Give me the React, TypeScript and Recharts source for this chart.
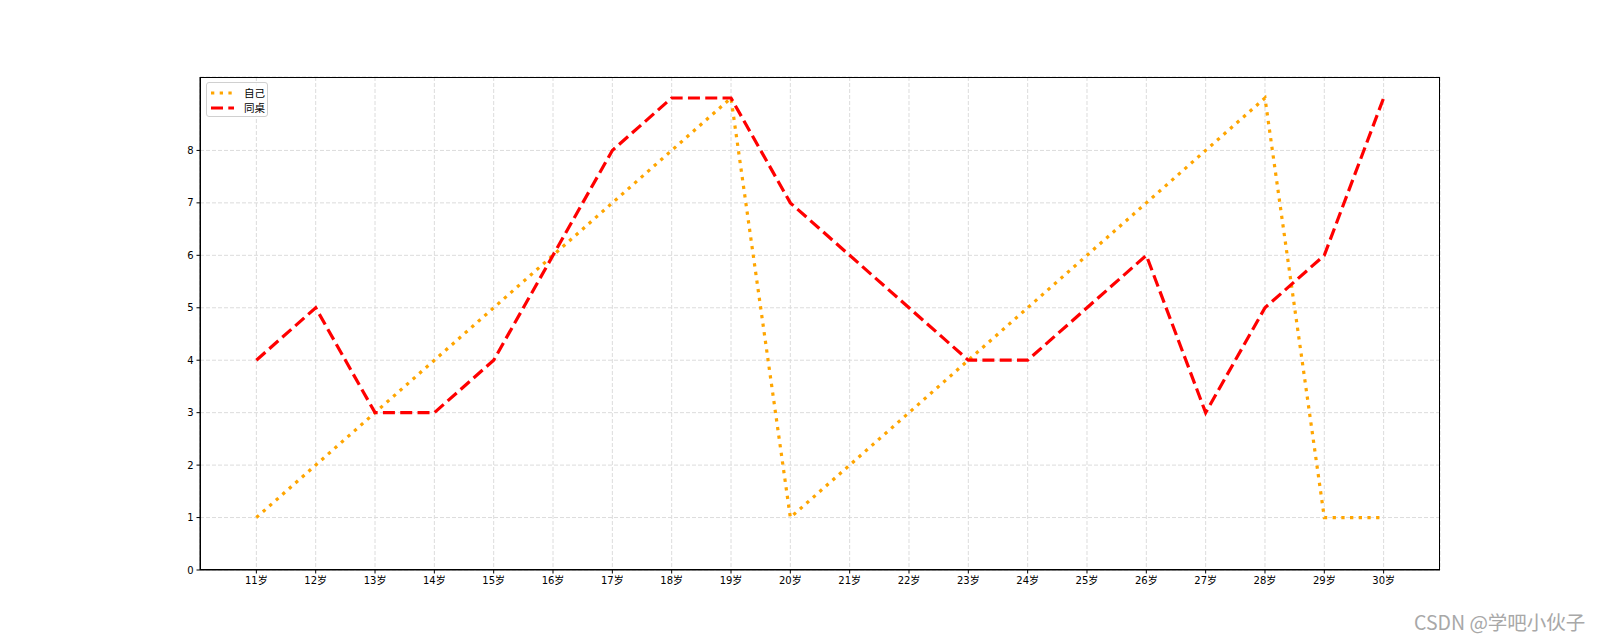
import React from 'react';
import { LineChart, Line, XAxis, YAxis, CartesianGrid } from 'recharts';

const ages = ['11岁', '12岁', '13岁', '14岁', '15岁', '16岁', '17岁', '18岁', '19岁', '20岁',
  '21岁', '22岁', '23岁', '24岁', '25岁', '26岁', '27岁', '28岁', '29岁', '30岁'];
const mine = [1, 2, 3, 4, 5, 6, 7, 8, 9, 1, 2, 3, 4, 5, 6, 7, 8, 9, 1, 1];
const deskmate = [4, 5, 3, 3, 4, 6, 8, 9, 9, 7, 6, 5, 4, 4, 5, 6, 3, 5, 6, 9];
const yTicks = [0, 1, 2, 3, 4, 5, 6, 7, 8];

const FONT = '"DejaVu Sans", "Noto Sans CJK SC", sans-serif';
const DOTTED = '3.3 5.4';
const DASHED = '12 5.3';

const data = ages.map((a, i) => ({ idx: i, label: a, mine: mine[i], deskmate: deskmate[i] }));

// plot box (matches the axes frame)
const PLOT = { left: 200, top: 77, right: 1440, bottom: 570 };

function LegendBox() {
  const rows = [
    { name: '自己', color: 'orange', dash: DOTTED },
    { name: '同桌', color: 'red', dash: DASHED },
  ];
  return (
    <div style={{
      position: 'absolute', left: 206, top: 82, width: 62, height: 35, boxSizing: 'border-box',
      border: '1px solid #d0d0d0', borderRadius: 3, background: 'rgba(255,255,255,0.8)',
      padding: '2px 0 0 4px', fontFamily: FONT, fontSize: 10.5, color: '#000',
    }}>
      {rows.map(r => (
        <div key={r.name} style={{ display: 'flex', alignItems: 'center', height: 15 }}>
          <svg width={23} height={6} style={{ marginRight: 10 }}>
            <line x1={0} y1={3} x2={23} y2={3} stroke={r.color} strokeWidth={3.2} strokeDasharray={r.dash} />
          </svg>
          <span>{r.name}</span>
        </div>
      ))}
    </div>
  );
}

export default function App() {
  return (
    <div style={{ position: 'absolute', left: 0, top: 0, width: 1600, height: 640, background: '#fff', overflow: 'hidden' }}>
      <LineChart width={1600} height={640} data={data}
        margin={{ top: PLOT.top, right: 1600 - PLOT.right, bottom: 640 - PLOT.bottom - 30, left: 0 }}>
        <CartesianGrid strokeDasharray="4 2" stroke="#dcdcdc" />
        <XAxis
          dataKey="idx"
          type="number"
          domain={[-0.95, 19.95]}
          ticks={ages.map((_, i) => i)}
          tickFormatter={(v: number) => ages[v] ?? ''}
          interval={0}
          allowDataOverflow
          stroke="#000"
          tickSize={3.5}
          tickMargin={3}
          tick={{ fill: '#000', fontSize: 10, fontFamily: FONT }}
          height={30}
        />
        <YAxis
          type="number"
          domain={[0, 9.4]}
          ticks={yTicks}
          allowDataOverflow
          stroke="#000"
          tickSize={3.5}
          tickMargin={3}
          tick={{ fill: '#000', fontSize: 10, fontFamily: FONT }}
          width={PLOT.left}
        />
        <Line type="linear" dataKey="mine" name="自己" stroke="orange" strokeWidth={3.2}
          strokeDasharray={DOTTED} dot={false} activeDot={false} isAnimationActive={false} />
        <Line type="linear" dataKey="deskmate" name="同桌" stroke="red" strokeWidth={3.2}
          strokeDasharray={DASHED} dot={false} activeDot={false} isAnimationActive={false} />
      </LineChart>
      <div style={{
        position: 'absolute', left: PLOT.left, top: PLOT.top,
        width: PLOT.right - PLOT.left, height: PLOT.bottom - PLOT.top,
        border: '1px solid #000', boxSizing: 'border-box', pointerEvents: 'none',
      }} />
      <LegendBox />
      <div style={{
        position: 'absolute', left: 1414, top: 612, fontSize: 19.5, lineHeight: 1, color: '#a8a8a8',
        fontFamily: '"Noto Sans CJK SC", sans-serif', whiteSpace: 'nowrap',
      }}>
        CSDN @学吧小伙子
      </div>
    </div>
  );
}
